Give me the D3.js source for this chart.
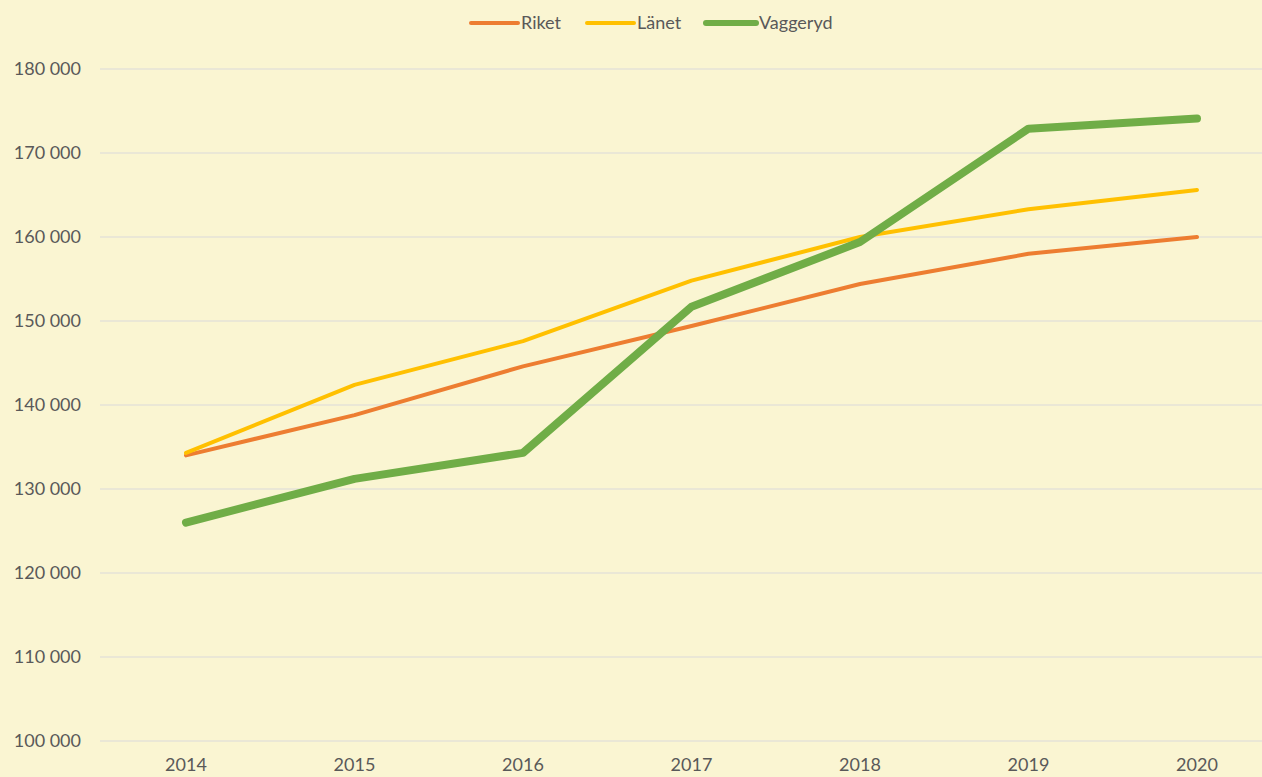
<!DOCTYPE html>
<meta charset="utf-8">
<script src="https://d3js.org/d3.v7.min.js"></script>
<style>
body { margin: 0; background: #faf5d2; }
text { font-family: Lato, "Open Sans", sans-serif; fill: #595959; }
</style>
<body>
<script>
// data
var years = [2014, 2015, 2016, 2017, 2018, 2019, 2020];
var riket = [134000, 138800, 144600, 149400, 154400, 158000, 160000];
var lanet = [134300, 142400, 147600, 154800, 160000, 163300, 165600];
var vaggeryd = [126000, 131200, 134300, 151700, 159400, 172900, 174100];
var yTicks = [100000, 110000, 120000, 130000, 140000, 150000, 160000, 170000, 180000];

var series = [
  {name: "Riket", values: riket, color: "#ed7d31", width: 4},
  {name: "Länet", values: lanet, color: "#ffc000", width: 4},
  {name: "Vaggeryd", values: vaggeryd, color: "#70ad47", width: 8}
];

var W = 1262, H = 777;
var svg = d3.select("body").append("svg")
    .attr("width", W).attr("height", H);

svg.append("rect").attr("width", W).attr("height", H).attr("fill", "#faf5d2");

var x = d3.scalePoint().domain(years).range([186, 1197]);
var y = d3.scaleLinear().domain([100000, 180000]).range([741, 69]);

var fmt = function(d) { return d3.format(",")(d).replace(",", " "); };

// gridlines
svg.selectAll(".grid").data(yTicks).enter().append("line")
    .attr("x1", 100).attr("x2", W)
    .attr("y1", function(d) { return y(d); })
    .attr("y2", function(d) { return y(d); })
    .attr("stroke", "#d9d9d9").attr("stroke-width", 1.2);

svg.selectAll(".ylab").data(yTicks).enter().append("text")
    .attr("x", 81).attr("y", function(d) { return y(d); })
    .attr("dy", "0.35em").attr("text-anchor", "end")
    .style("font-size", "18px")
    .text(fmt);

svg.selectAll(".xlab").data(years).enter().append("text")
    .attr("x", function(d) { return x(d); }).attr("y", 765)
    .attr("dy", "0.35em").attr("text-anchor", "middle")
    .style("font-size", "18px")
    .text(function(d) { return d; });

var line = d3.line()
    .x(function(d, i) { return x(years[i]); })
    .y(function(d) { return y(d); });

svg.selectAll(".series").data(series).enter().append("path")
    .attr("d", function(s) { return line(s.values); })
    .attr("fill", "none")
    .attr("stroke", function(s) { return s.color; })
    .attr("stroke-width", function(s) { return s.width; })
    .attr("stroke-linecap", "round")
    .attr("stroke-linejoin", "round");

// legend
var legX = [471, 587, 706];
var leg = svg.selectAll(".leg").data(series).enter().append("g")
    .attr("transform", function(d, i) { return "translate(" + legX[i] + ",23)"; });
leg.append("line")
    .attr("x1", 0).attr("x2", function(d) { return d.width > 4 ? 50 : 47; })
    .attr("stroke", function(d) { return d.color; })
    .attr("stroke-width", function(d) { return d.width > 4 ? 6 : 4; })
    .attr("stroke-linecap", "round");
leg.append("text")
    .attr("x", function(d) { return d.width > 4 ? 53 : 50; })
    .attr("dy", "0.35em")
    .style("font-size", "18px")
    .text(function(d) { return d.name; });
</script>
</body>
